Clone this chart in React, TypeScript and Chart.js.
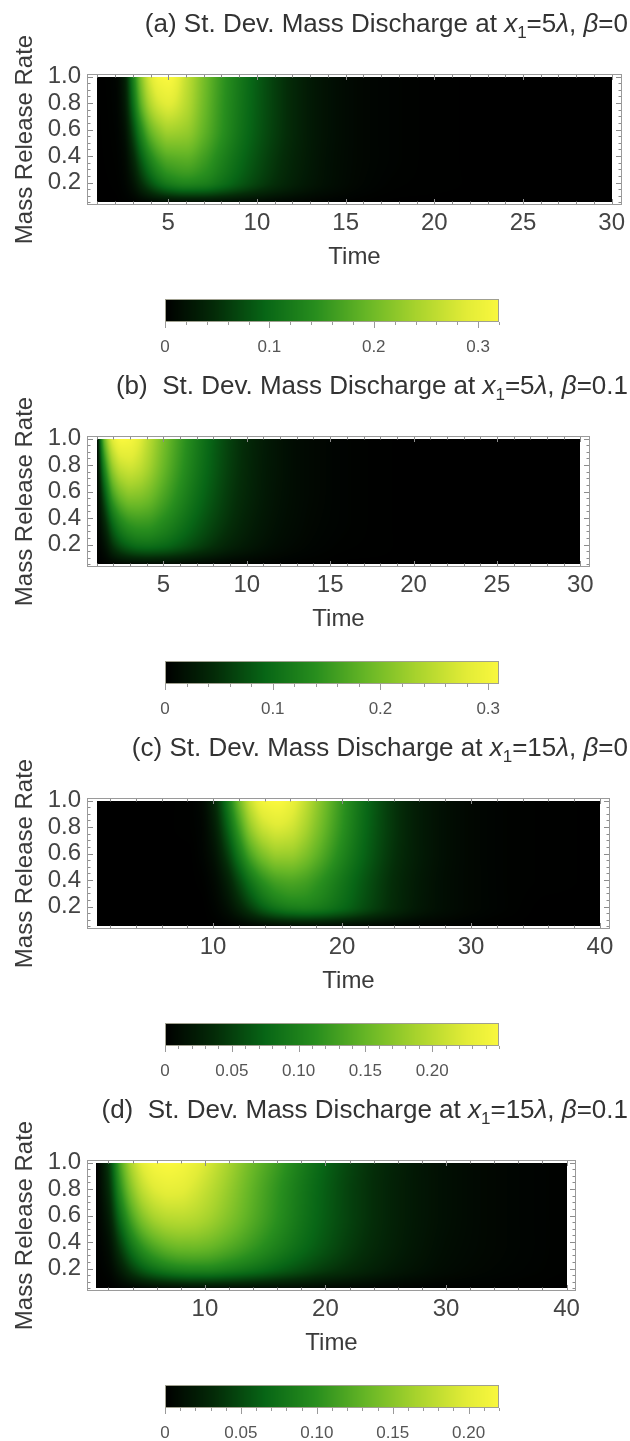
import React, { useEffect, useRef } from "react";
import { Chart, registerables } from "chart.js";
Chart.register(...registerables);

const FONT = "'Liberation Sans', Arial, sans-serif";

// Mass release rate samples (y axis), bottom to top
const RATES = [0.05, 0.2, 0.4, 0.6, 0.8, 1.0];

// ---------- Panel (a): x1 = 5λ, β = 0 ----------
const TIMES_A = [1, 2, 2.5, 3, 3.5, 4, 4.5, 5, 6, 7, 8, 9, 10, 11, 12, 13, 14, 16, 18, 20, 25, 30];
const A_R005 = [0, 0, 0.001, 0.002, 0.005, 0.008, 0.011, 0.013, 0.016, 0.017, 0.016, 0.014, 0.012, 0.009, 0.007, 0.005, 0.003, 0.001, 0, 0, 0, 0];
const A_R020 = [0, 0.001, 0.005, 0.02, 0.05, 0.08, 0.105, 0.122, 0.135, 0.128, 0.108, 0.086, 0.066, 0.049, 0.035, 0.024, 0.016, 0.006, 0.002, 0.001, 0, 0];
const A_R040 = [0, 0.002, 0.009, 0.042, 0.093, 0.137, 0.167, 0.183, 0.188, 0.165, 0.132, 0.103, 0.078, 0.057, 0.04, 0.027, 0.017, 0.007, 0.003, 0.001, 0, 0];
const A_R060 = [0, 0.003, 0.016, 0.07, 0.14, 0.195, 0.225, 0.24, 0.23, 0.19, 0.148, 0.113, 0.085, 0.062, 0.043, 0.028, 0.018, 0.007, 0.003, 0.001, 0, 0];
const A_R080 = [0, 0.004, 0.025, 0.1, 0.19, 0.25, 0.28, 0.29, 0.255, 0.2, 0.152, 0.116, 0.087, 0.063, 0.043, 0.028, 0.018, 0.007, 0.003, 0.001, 0, 0];
const A_R100 = [0, 0.005, 0.03, 0.12, 0.22, 0.285, 0.315, 0.32, 0.265, 0.205, 0.155, 0.118, 0.088, 0.063, 0.043, 0.028, 0.018, 0.007, 0.003, 0.001, 0, 0];

// ---------- Panel (b): x1 = 5λ, β = 0.1 ----------
const TIMES_B = [1, 1.5, 2, 2.5, 3, 3.5, 4, 5, 6, 7, 8, 9, 10, 11, 12, 13, 14, 16, 18, 20, 25, 30];
const B_R005 = [0, 0.002, 0.005, 0.008, 0.01, 0.011, 0.012, 0.012, 0.011, 0.009, 0.007, 0.005, 0.004, 0.003, 0.002, 0.001, 0.001, 0, 0, 0, 0, 0];
const B_R020 = [0, 0.02, 0.055, 0.08, 0.095, 0.103, 0.105, 0.098, 0.083, 0.066, 0.05, 0.036, 0.026, 0.018, 0.012, 0.008, 0.005, 0.002, 0.001, 0, 0, 0];
const B_R040 = [0, 0.05, 0.108, 0.142, 0.158, 0.162, 0.16, 0.14, 0.115, 0.09, 0.068, 0.05, 0.035, 0.024, 0.016, 0.011, 0.007, 0.003, 0.001, 0, 0, 0];
const B_R060 = [0, 0.09, 0.17, 0.205, 0.218, 0.215, 0.205, 0.17, 0.135, 0.104, 0.078, 0.056, 0.04, 0.027, 0.018, 0.012, 0.008, 0.003, 0.001, 0, 0, 0];
const B_R080 = [0, 0.14, 0.23, 0.262, 0.268, 0.258, 0.238, 0.19, 0.148, 0.113, 0.084, 0.06, 0.042, 0.028, 0.019, 0.012, 0.008, 0.003, 0.001, 0, 0, 0];
const B_R100 = [0, 0.2, 0.285, 0.31, 0.305, 0.285, 0.255, 0.2, 0.155, 0.118, 0.087, 0.062, 0.043, 0.029, 0.019, 0.012, 0.008, 0.003, 0.001, 0, 0, 0];

// ---------- Panel (c): x1 = 15λ, β = 0 ----------
const TIMES_C = [1, 5, 8, 9, 10, 11, 12, 13, 14, 15, 16, 17, 18, 20, 22, 24, 26, 28, 30, 33, 36, 40];
const C_R005 = [0, 0, 0, 0, 0, 0.001, 0.002, 0.004, 0.006, 0.008, 0.009, 0.01, 0.01, 0.009, 0.007, 0.005, 0.003, 0.002, 0.001, 0, 0, 0];
const C_R020 = [0, 0, 0, 0, 0.003, 0.012, 0.03, 0.053, 0.075, 0.09, 0.098, 0.1, 0.096, 0.078, 0.055, 0.035, 0.02, 0.011, 0.006, 0.002, 0, 0];
const C_R040 = [0, 0, 0, 0.001, 0.007, 0.025, 0.057, 0.092, 0.118, 0.133, 0.137, 0.132, 0.12, 0.09, 0.061, 0.037, 0.021, 0.011, 0.006, 0.002, 0.001, 0];
const C_R060 = [0, 0, 0, 0.003, 0.014, 0.045, 0.092, 0.139, 0.168, 0.182, 0.181, 0.168, 0.148, 0.105, 0.069, 0.041, 0.023, 0.012, 0.006, 0.002, 0.001, 0];
const C_R080 = [0, 0, 0.001, 0.004, 0.022, 0.066, 0.125, 0.182, 0.212, 0.222, 0.215, 0.194, 0.167, 0.115, 0.073, 0.043, 0.023, 0.012, 0.006, 0.002, 0.001, 0];
const C_R100 = [0, 0, 0.001, 0.006, 0.03, 0.085, 0.155, 0.215, 0.245, 0.25, 0.237, 0.21, 0.178, 0.12, 0.075, 0.043, 0.023, 0.012, 0.006, 0.002, 0.001, 0];

// ---------- Panel (d): x1 = 15λ, β = 0.1 ----------
const TIMES_D = [1, 2, 3, 4, 5, 6, 7, 8, 9, 10, 12, 14, 16, 18, 20, 22, 24, 26, 28, 30, 34, 40];
const D_R005 = [0, 0, 0.002, 0.004, 0.006, 0.008, 0.009, 0.01, 0.011, 0.011, 0.011, 0.01, 0.009, 0.008, 0.006, 0.005, 0.004, 0.003, 0.002, 0.001, 0.001, 0];
const D_R020 = [0, 0.005, 0.022, 0.045, 0.064, 0.077, 0.086, 0.091, 0.093, 0.093, 0.086, 0.076, 0.064, 0.052, 0.041, 0.032, 0.024, 0.017, 0.012, 0.008, 0.004, 0.001];
const D_R040 = [0, 0.012, 0.048, 0.086, 0.113, 0.13, 0.14, 0.144, 0.144, 0.141, 0.127, 0.109, 0.09, 0.072, 0.056, 0.042, 0.031, 0.022, 0.015, 0.01, 0.005, 0.001];
const D_R060 = [0, 0.022, 0.075, 0.122, 0.153, 0.17, 0.177, 0.178, 0.175, 0.168, 0.147, 0.123, 0.1, 0.078, 0.06, 0.045, 0.033, 0.023, 0.016, 0.011, 0.005, 0.001];
const D_R080 = [0, 0.032, 0.1, 0.152, 0.183, 0.198, 0.203, 0.201, 0.193, 0.182, 0.156, 0.128, 0.103, 0.08, 0.061, 0.045, 0.033, 0.023, 0.016, 0.011, 0.005, 0.001];
const D_R100 = [0, 0.04, 0.12, 0.175, 0.205, 0.218, 0.22, 0.216, 0.207, 0.195, 0.165, 0.135, 0.11, 0.085, 0.064, 0.047, 0.034, 0.024, 0.016, 0.011, 0.005, 0.001];

// Axis ticks / labels
const Y_TICKS = [0.2, 0.4, 0.6, 0.8, 1.0];
const Y_TICK_LABELS = ["0.2", "0.4", "0.6", "0.8", "1.0"];
const X_TICKS_30 = [5, 10, 15, 20, 25, 30];
const X_TICKS_40 = [10, 20, 30, 40];

// Colour-bar ranges and ticks
const CBAR_MAX = [0.32, 0.31, 0.25, 0.22];
const CBAR_TICKS_AB = [0, 0.1, 0.2, 0.3];
const CBAR_LABELS_AB = ["0", "0.1", "0.2", "0.3"];
const CBAR_TICKS_CD = [0, 0.05, 0.1, 0.15, 0.2];
const CBAR_LABELS_CD = ["0", "0.05", "0.10", "0.15", "0.20"];

// Titles (rich text pieces)
const TITLE_PREFIX = ["(a) St. Dev. Mass Discharge at ", "(b)  St. Dev. Mass Discharge at ", "(c) St. Dev. Mass Discharge at ", "(d)  St. Dev. Mass Discharge at "];
const TITLE_DIST = ["=5", "=5", "=15", "=15"];
const TITLE_BETA = ["=0", "=0.1", "=0", "=0.1"];

// AvocadoColors-like colour map (style)
const CMAP: number[][] = [
  [0, 0, 0, 0],
  [0.15, 4, 44, 8],
  [0.3, 8, 102, 22],
  [0.45, 40, 142, 30],
  [0.6, 102, 182, 38],
  [0.75, 167, 211, 45],
  [0.9, 226, 236, 55],
  [1, 250, 248, 62],
];

function cmap(f: number): number[] {
  const v = Math.max(0, Math.min(1, f));
  for (let i = 0; i < CMAP.length - 1; i++) {
    const a = CMAP[i], b = CMAP[i + 1];
    if (v <= b[0]) {
      const k = (v - a[0]) / (b[0] - a[0]);
      return [a[1] + (b[1] - a[1]) * k, a[2] + (b[2] - a[2]) * k, a[3] + (b[3] - a[3]) * k];
    }
  }
  const l = CMAP[CMAP.length - 1];
  return [l[1], l[2], l[3]];
}

function findIdx(arr: number[], v: number) {
  if (v <= arr[0]) return 0;
  for (let i = 0; i < arr.length - 1; i++) if (v <= arr[i + 1]) return i;
  return arr.length - 2;
}

// Monotone cubic (PCHIP) interpolation, used only for smooth shading between samples
function slopes(xs: number[], ys: number[]) {
  const n = xs.length;
  const d: number[] = [];
  for (let i = 0; i < n - 1; i++) d.push((ys[i + 1] - ys[i]) / (xs[i + 1] - xs[i]));
  const m = new Array(n).fill(0);
  m[0] = d[0];
  m[n - 1] = d[n - 2];
  for (let i = 1; i < n - 1; i++) {
    if (d[i - 1] * d[i] <= 0) m[i] = 0;
    else {
      const h0 = xs[i] - xs[i - 1], h1 = xs[i + 1] - xs[i];
      const w1 = 2 * h1 + h0, w2 = h1 + 2 * h0;
      m[i] = (w1 + w2) / (w1 / d[i - 1] + w2 / d[i]);
    }
  }
  return m;
}

function interp(xs: number[], ys: number[], m: number[], x: number) {
  const i = findIdx(xs, x);
  const h = xs[i + 1] - xs[i];
  const t = Math.max(0, Math.min(1, (x - xs[i]) / h));
  const t2 = t * t, t3 = t2 * t;
  return (2 * t3 - 3 * t2 + 1) * ys[i] + (t3 - 2 * t2 + t) * h * m[i] + (-2 * t3 + 3 * t2) * ys[i + 1] + (t3 - t2) * h * m[i + 1];
}

type Panel = {
  times: number[];
  rows: number[][];
  vmax: number;
  xMin: number;
  xMax: number;
  xTicks: number[];
  xMinorStep: number;
  frameRight: number;
  cbTicks: number[];
  cbLabels: string[];
  cbMinorStep: number;
};

const PANELS: Panel[] = [
  { times: TIMES_A, rows: [A_R005, A_R020, A_R040, A_R060, A_R080, A_R100], vmax: CBAR_MAX[0], xMin: 0.42, xMax: 30.58, xTicks: X_TICKS_30, xMinorStep: 1, frameRight: 622, cbTicks: CBAR_TICKS_AB, cbLabels: CBAR_LABELS_AB, cbMinorStep: 0.02 },
  { times: TIMES_B, rows: [B_R005, B_R020, B_R040, B_R060, B_R080, B_R100], vmax: CBAR_MAX[1], xMin: 0.42, xMax: 30.58, xTicks: X_TICKS_30, xMinorStep: 1, frameRight: 590, cbTicks: CBAR_TICKS_AB, cbLabels: CBAR_LABELS_AB, cbMinorStep: 0.02 },
  { times: TIMES_C, rows: [C_R005, C_R020, C_R040, C_R060, C_R080, C_R100], vmax: CBAR_MAX[2], xMin: 0.22, xMax: 40.78, xTicks: X_TICKS_40, xMinorStep: 2, frameRight: 610, cbTicks: CBAR_TICKS_CD, cbLabels: CBAR_LABELS_CD, cbMinorStep: 0.01 },
  { times: TIMES_D, rows: [D_R005, D_R020, D_R040, D_R060, D_R080, D_R100], vmax: CBAR_MAX[3], xMin: 0.22, xMax: 40.78, xTicks: X_TICKS_40, xMinorStep: 2, frameRight: 576, cbTicks: CBAR_TICKS_CD, cbLabels: CBAR_LABELS_CD, cbMinorStep: 0.01 },
];

const PANEL_STEP = 362;
const HEAT_H = 275;
const CB_TOP = 285;
const CB_H = 80;
const TEXT = "#3a3a3a";
const FRAME = "#9a9a9a";

function makeHeatChart(canvas: HTMLCanvasElement, p: Panel, idx: number) {
  const points: { x: number; y: number; v: number }[] = [];
  RATES.forEach((r, j) => p.times.forEach((t, i) => points.push({ x: t, y: r, v: p.rows[j][i] })));
  const rowSlopes = p.rows.map((row) => slopes(p.times, row));

  const heat = {
    id: "heat" + idx,
    beforeDatasetsDraw(chart: any) {
      const { ctx, scales } = chart;
      const x = scales.x, y = scales.y;
      const x0 = Math.round(x.getPixelForValue(p.times[0]));
      const x1 = Math.round(x.getPixelForValue(p.times[p.times.length - 1]));
      const yT = Math.round(y.getPixelForValue(RATES[RATES.length - 1]));
      const yB = Math.round(y.getPixelForValue(RATES[0]));
      const w = x1 - x0, h = yB - yT;
      const off = document.createElement("canvas");
      off.width = w; off.height = h;
      const octx = off.getContext("2d")!;
      const img = octx.createImageData(w, h);
      const rowR: number[] = [];
      for (let py = 0; py < h; py++) rowR.push(y.getValueForPixel(yT + py + 0.5));
      for (let px = 0; px < w; px++) {
        const t = x.getValueForPixel(x0 + px + 0.5);
        const col = p.rows.map((row, j) => interp(p.times, row, rowSlopes[j], t));
        const cm = slopes(RATES, col);
        for (let py = 0; py < h; py++) {
          const v = Math.max(0, interp(RATES, col, cm, rowR[py]));
          const c = cmap(v / p.vmax);
          const k = (py * w + px) * 4;
          img.data[k] = c[0]; img.data[k + 1] = c[1]; img.data[k + 2] = c[2]; img.data[k + 3] = 255;
        }
      }
      octx.putImageData(img, 0, 0);
      ctx.drawImage(off, x0, yT);
    },
    afterDatasetsDraw(chart: any) {
      const { ctx, chartArea: a, scales } = chart;
      const x = scales.x, y = scales.y;
      ctx.save();
      ctx.strokeStyle = "#8c8c8c";
      ctx.lineWidth = 1;
      ctx.beginPath();
      for (let v = p.xMinorStep; v <= p.times[p.times.length - 1] + 1e-9; v += p.xMinorStep) {
        const major = p.xTicks.some((m) => Math.abs(m - v) < 1e-6);
        const len = major ? 6 : 3.5;
        const px = Math.round(x.getPixelForValue(v)) + 0.5;
        ctx.moveTo(px, a.bottom); ctx.lineTo(px, a.bottom - len);
        ctx.moveTo(px, a.top); ctx.lineTo(px, a.top + len);
      }
      for (let k = 1; k <= 20; k++) {
        const v = k * 0.05;
        const major = Y_TICKS.some((m) => Math.abs(m - v) < 1e-6);
        const len = major ? 6 : 3.5;
        const py = Math.round(y.getPixelForValue(v)) + 0.5;
        ctx.moveTo(a.left, py); ctx.lineTo(a.left + len, py);
        ctx.moveTo(a.right, py); ctx.lineTo(a.right - len, py);
      }
      ctx.stroke();
      ctx.strokeStyle = FRAME;
      ctx.strokeRect(Math.round(a.left) + 0.5, Math.round(a.top) + 0.5, Math.round(a.right - a.left) - 1, Math.round(a.bottom - a.top) - 1);
      ctx.restore();
    },
    afterDraw(chart: any) {
      const ctx = chart.ctx;
      ctx.save();
      const main = `26px ${FONT}`;
      const ital = `italic 26px ${FONT}`;
      const sub = `17px ${FONT}`;
      const segs: { t: string; f: string; dy: number }[] = [
        { t: TITLE_PREFIX[idx], f: main, dy: 0 },
        { t: "x", f: ital, dy: 0 },
        { t: "1", f: sub, dy: 6 },
        { t: TITLE_DIST[idx], f: main, dy: 0 },
        { t: "λ", f: ital, dy: 0 },
        { t: ", ", f: main, dy: 0 },
        { t: "β", f: ital, dy: 0 },
        { t: TITLE_BETA[idx], f: main, dy: 0 },
      ];
      let total = 0;
      segs.forEach((s) => { ctx.font = s.f; total += ctx.measureText(s.t).width; });
      let cx = 628 - total;
      const base = 32;
      ctx.fillStyle = "#333";
      ctx.textBaseline = "alphabetic";
      ctx.textAlign = "left";
      segs.forEach((s) => {
        ctx.font = s.f;
        ctx.fillText(s.t, cx, base + s.dy);
        cx += ctx.measureText(s.t).width;
      });
      ctx.restore();
    },
  };

  return new Chart(canvas, {
    type: "scatter",
    data: { datasets: [{ data: points as any, pointRadius: 0, showLine: false }] },
    options: {
      animation: false,
      responsive: false,
      events: [],
      layout: { padding: { left: 0, top: 74, right: 630 - p.frameRight, bottom: 0 } },
      plugins: { legend: { display: false }, tooltip: { enabled: false }, title: { display: false } },
      scales: {
        x: {
          type: "linear",
          position: "bottom",
          min: p.xMin,
          max: p.xMax,
          afterBuildTicks: (s: any) => { s.ticks = p.xTicks.map((v) => ({ value: v })); },
          afterFit: (s: any) => { s.height = 70; },
          grid: { display: false, drawTicks: false },
          border: { display: false },
          ticks: { padding: 4, autoSkip: false, maxRotation: 0, color: "#444", font: { family: FONT, size: 24 }, callback: (v: any) => String(v) },
          title: { display: true, text: "Time", color: TEXT, font: { family: FONT, size: 24 }, padding: { top: 0, bottom: 3 } },
        },
        y: {
          type: "linear",
          position: "left",
          min: 0.031,
          max: 1.019,
          afterBuildTicks: (s: any) => { s.ticks = Y_TICKS.map((v) => ({ value: v })); },
          afterFit: (s: any) => { s.width = 87; },
          grid: { display: false, drawTicks: false },
          border: { display: false },
          ticks: { padding: 6, autoSkip: false, color: "#444", font: { family: FONT, size: 24 }, callback: (v: any) => { const i = Y_TICKS.findIndex((m) => Math.abs(m - v) < 1e-6); return i >= 0 ? Y_TICK_LABELS[i] : ""; } },
          title: { display: true, text: "Mass Release Rate", color: TEXT, font: { family: FONT, size: 24 }, padding: { top: 11, bottom: 0 } },
        },
      },
    },
    plugins: [heat],
  } as any);
}

function makeColorbar(canvas: HTMLCanvasElement, p: Panel, idx: number) {
  const bar = {
    id: "cbar" + idx,
    beforeDatasetsDraw(chart: any) {
      const { ctx, chartArea: a, scales } = chart;
      const x = scales.x;
      ctx.save();
      const l = Math.round(a.left), r = Math.round(a.right);
      for (let px = l; px < r; px++) {
        const v = x.getValueForPixel(px + 0.5);
        const c = cmap(v / p.vmax);
        ctx.fillStyle = `rgb(${c[0] | 0},${c[1] | 0},${c[2] | 0})`;
        ctx.fillRect(px, a.top, 1, a.bottom - a.top);
      }
      ctx.strokeStyle = "#a0a090";
      ctx.lineWidth = 1;
      ctx.strokeRect(l + 0.5, Math.round(a.top) + 0.5, r - l - 1, Math.round(a.bottom - a.top) - 1);
      ctx.strokeStyle = "#9a9a9a";
      ctx.beginPath();
      const n = Math.round(p.vmax / p.cbMinorStep);
      for (let k = 0; k <= n; k++) {
        const v = k * p.cbMinorStep;
        if (v > p.vmax + 1e-9) break;
        const major = p.cbTicks.some((m) => Math.abs(m - v) < 1e-6);
        const px = Math.round(x.getPixelForValue(v)) + 0.5;
        ctx.moveTo(px, a.bottom);
        ctx.lineTo(px, a.bottom + (major ? 6 : 3));
      }
      ctx.stroke();
      ctx.restore();
    },
  };
  return new Chart(canvas, {
    type: "scatter",
    data: { datasets: [{ data: [], pointRadius: 0 }] },
    options: {
      animation: false,
      responsive: false,
      events: [],
      layout: { padding: { left: 165, top: 14, right: 131, bottom: 0 } },
      plugins: { legend: { display: false }, tooltip: { enabled: false } },
      scales: {
        x: {
          type: "linear",
          position: "bottom",
          min: 0,
          max: p.vmax,
          afterBuildTicks: (s: any) => { s.ticks = p.cbTicks.map((v) => ({ value: v })); },
          afterFit: (s: any) => { s.height = CB_H - 37; },
          grid: { display: false, drawTicks: false },
          border: { display: false },
          ticks: { padding: 15, autoSkip: false, maxRotation: 0, color: "#555", font: { family: FONT, size: 17 }, callback: (v: any) => { const i = p.cbTicks.findIndex((m) => Math.abs(m - v) < 1e-6); return i >= 0 ? p.cbLabels[i] : ""; } },
        },
        y: { display: false, min: 0, max: 1 },
      },
    },
    plugins: [bar],
  } as any);
}

export default function App() {
  const heatRefs = useRef<(HTMLCanvasElement | null)[]>([]);
  const cbRefs = useRef<(HTMLCanvasElement | null)[]>([]);

  useEffect(() => {
    const charts: Chart[] = [];
    PANELS.forEach((p, i) => {
      const hc = heatRefs.current[i];
      const cc = cbRefs.current[i];
      if (hc) charts.push(makeHeatChart(hc, p, i));
      if (cc) charts.push(makeColorbar(cc, p, i));
    });
    return () => charts.forEach((c) => c.destroy());
  }, []);

  return (
    <div style={{ position: "absolute", left: 0, top: 0, width: 630, height: 1441, background: "#fff", overflow: "hidden" }}>
      {PANELS.map((_, i) => (
        <React.Fragment key={i}>
          <canvas
            ref={(el) => { heatRefs.current[i] = el; }}
            width={630}
            height={HEAT_H}
            style={{ position: "absolute", left: 0, top: i * PANEL_STEP, width: 630, height: HEAT_H }}
          />
          <canvas
            ref={(el) => { cbRefs.current[i] = el; }}
            width={630}
            height={CB_H}
            style={{ position: "absolute", left: 0, top: i * PANEL_STEP + CB_TOP, width: 630, height: CB_H }}
          />
        </React.Fragment>
      ))}
    </div>
  );
}
